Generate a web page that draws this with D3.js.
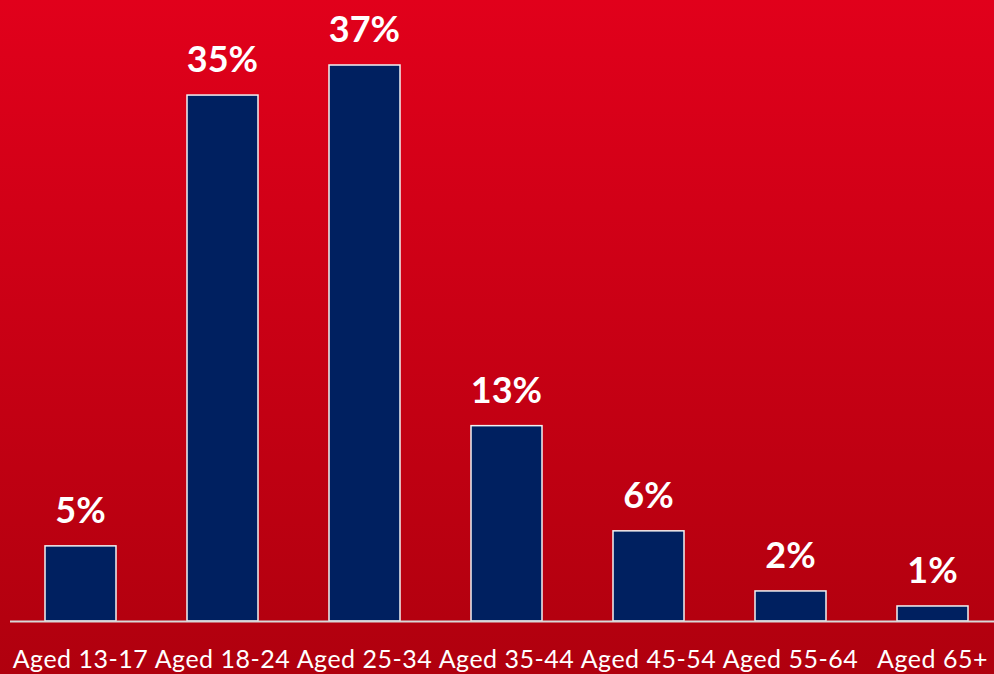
<!DOCTYPE html>
<html>
<head>
<meta charset="utf-8">
<title>Age groups</title>
<script src="https://cdn.jsdelivr.net/npm/d3@7"></script>
<style>
  html, body { margin: 0; padding: 0; overflow: hidden; }
  svg { display: block; }
</style>
</head>
<body>
<div id="chart"></div>
<script>
// data
var categories = ["Aged 13-17", "Aged 18-24", "Aged 25-34", "Aged 35-44", "Aged 45-54", "Aged 55-64", "Aged 65+"];
var shares = [5, 35, 37, 13, 6, 2, 1];
var valueLabels = ["5%", "35%", "37%", "13%", "6%", "2%", "1%"];

var width = 994, height = 674;
var baseline = 621;

var svg = d3.select("#chart").append("svg")
  .attr("width", width)
  .attr("height", height);

// red background gradient
var grad = svg.append("defs").append("linearGradient")
  .attr("id", "bg")
  .attr("x1", 0).attr("y1", 0).attr("x2", 0).attr("y2", 1);
grad.append("stop").attr("offset", "0%").attr("stop-color", "#e1001b");
grad.append("stop").attr("offset", "100%").attr("stop-color", "#b0000e");

svg.append("rect")
  .attr("width", width).attr("height", height)
  .attr("fill", "url(#bg)");

var x = d3.scaleBand()
  .domain(categories)
  .range([9.5, 1003.5])
  .paddingInner(0.5)
  .paddingOuter(0.25);

var y = d3.scaleLinear()
  .domain([0, 37])
  .range([baseline, 65]);

var rows = categories.map(function (c, i) {
  return {cat: c, value: shares[i], label: valueLabels[i]};
});

svg.selectAll("rect.bar")
  .data(rows).enter()
  .append("rect")
    .attr("class", "bar")
    .attr("x", function (d) { return x(d.cat); })
    .attr("y", function (d) { return y(d.value); })
    .attr("width", x.bandwidth())
    .attr("height", function (d) { return baseline - y(d.value); })
    .attr("fill", "#002060")
    .attr("stroke", "#f2f2f2")
    .attr("stroke-width", 1.5);

// axis along the bottom
var axis = svg.append("g")
  .attr("transform", "translate(0," + baseline + ")")
  .call(d3.axisBottom(x).tickSize(0).tickPadding(0));
axis.select(".domain")
  .attr("d", "M10,0.5H994")
  .attr("stroke", "#d9d9d9")
  .attr("stroke-width", 2);
axis.selectAll(".tick text")
  .attr("y", 47)
  .attr("dy", 0)
  .attr("fill", "#ffffff")
  .style("font-family", "Lato, 'Open Sans', sans-serif")
  .style("font-size", "25px")
  .style("letter-spacing", "0.5px");

svg.selectAll("text.value")
  .data(rows).enter()
  .append("text")
    .attr("class", "value")
    .attr("x", function (d) { return x(d.cat) + x.bandwidth() / 2; })
    .attr("y", function (d) { return y(d.value) - 23; })
    .attr("text-anchor", "middle")
    .attr("fill", "#ffffff")
    .style("font-family", "Lato, 'Open Sans', sans-serif")
    .style("font-weight", "bold")
    .style("font-size", "36px")
    .text(function (d) { return d.label; });
</script>
</body>
</html>
